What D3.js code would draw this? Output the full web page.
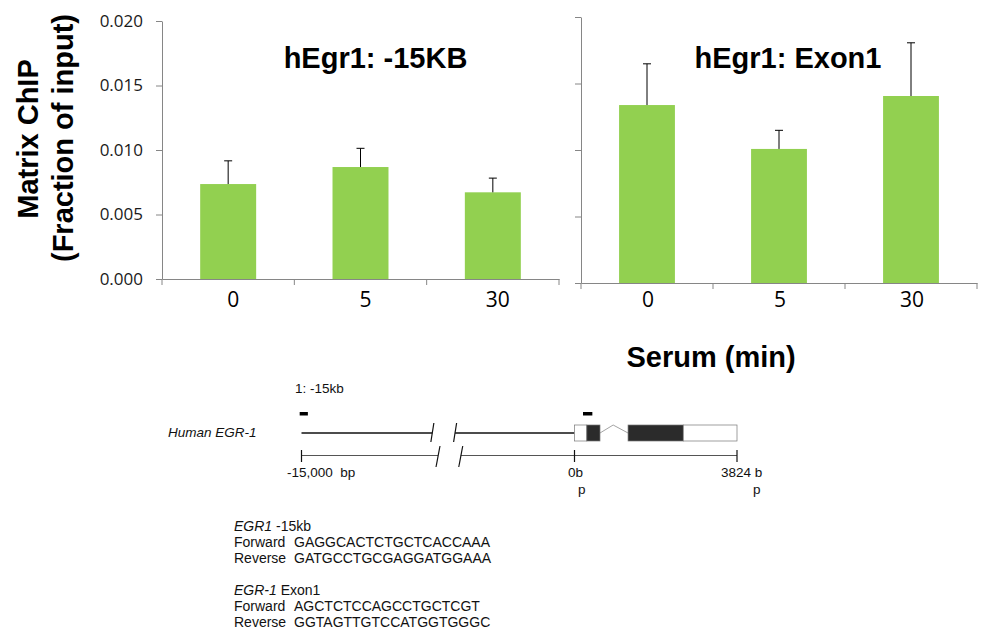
<!DOCTYPE html>
<html>
<head>
<meta charset="utf-8">
<script src="https://cdn.jsdelivr.net/npm/d3@7"></script>
<style>
  body { margin: 0; background: #fff; }
  svg { display: block; }
  svg text { white-space: pre; }
  .tick text { font-family: "Open Sans", sans-serif; }
</style>
</head>
<body>
<div id="chart-area"></div>
<script>
/*
*    EGR-1 matrix ChIP
*/

var categories = ["0", "5", "30"];
var yTicks = [0, 0.005, 0.010, 0.015, 0.020];

var upstreamValues = [0.00736, 0.00868, 0.00672];
var upstreamErrors = [0.0018, 0.00145, 0.0011];

var exonValues = [0.01338, 0.01008, 0.01406];
var exonErrors = [0.0031, 0.0014, 0.0040];

// gene schematic, positions in bp relative to TSS
var exonBoxes = [
  { start: 0, end: 290, fill: "#fff" },
  { start: 290, end: 600, fill: "#2b2b2b" },
  { start: 1260, end: 2560, fill: "#2b2b2b" },
  { start: 2560, end: 3824, fill: "#fff" }
];
var primerMarks = [[-15100, -14650], [200, 420]];

var primerText = [
  { head: "EGR1", tail: " -15kb", fwd: "GAGGCACTCTGCTCACCAAA", rev: "GATGCCTGCGAGGATGGAAA" },
  { head: "EGR-1", tail: " Exon1", fwd: "AGCTCTCCAGCCTGCTCGT", rev: "GGTAGTTGTCCATGGTGGGC" }
];

var width = 990;
var height = 636;
var green = "#92d050";
var axisColor = "#868686";
var boldFont = "Liberation Sans, Arial, sans-serif";

var svg = d3.select("#chart-area")
  .append("svg")
  .attr("width", width)
  .attr("height", height);

var panels = [
  { title: "hEgr1: -15KB", values: upstreamValues, errors: upstreamErrors,
    left: 162, right: 559, top: 21, bottom: 279, labels: true, titleX: 375.5, labelDx: 5 },
  { title: "hEgr1: Exon1", values: exonValues, errors: exonErrors,
    left: 581, right: 977, top: 17, bottom: 283, labels: false, titleX: 788, labelDx: 1 }
];

panels.forEach(p => {
  var data = categories.map((c, i) => ({ cat: c, value: p.values[i], err: p.errors[i] }));

  var x = d3.scaleBand()
    .domain(categories)
    .range([p.left, p.right])
    .paddingInner(0.577)
    .paddingOuter(0.2885);

  var y = d3.scaleLinear()
    .domain([0, 0.02])
    .range([p.bottom, p.top]);

  var g = svg.append("g");

  g.selectAll("rect.bar")
    .data(data).enter()
    .append("rect")
    .attr("class", "bar")
    .attr("x", d => x(d.cat))
    .attr("y", d => y(d.value))
    .attr("width", x.bandwidth())
    .attr("height", d => y(0) - y(d.value))
    .attr("fill", green);

  // error bars (upper half only)
  var err = g.selectAll("g.err")
    .data(data).enter()
    .append("g")
    .attr("class", "err")
    .attr("stroke", "#000")
    .attr("stroke-width", 1);
  err.append("line")
    .attr("x1", d => x(d.cat) + x.bandwidth() / 2)
    .attr("x2", d => x(d.cat) + x.bandwidth() / 2)
    .attr("y1", d => y(d.value))
    .attr("y2", d => y(d.value + d.err));
  err.append("line")
    .attr("x1", d => x(d.cat) + x.bandwidth() / 2 - 4)
    .attr("x2", d => x(d.cat) + x.bandwidth() / 2 + 4)
    .attr("y1", d => y(d.value + d.err))
    .attr("y2", d => y(d.value + d.err));

  var leftAxis = d3.axisLeft(y)
    .tickValues(yTicks)
    .tickSize(6)
    .tickSizeOuter(0)
    .tickPadding(13)
    .tickFormat(p.labels ? d3.format(".3f") : () => "");
  var ya = g.append("g")
    .attr("transform", "translate(" + p.left + ",0)")
    .call(leftAxis);
  ya.selectAll("path, line").attr("stroke", axisColor);
  ya.selectAll("text")
    .attr("font-size", "17px")
    .attr("fill", "#1a1a1a");

  var bottomAxis = d3.axisBottom(x).tickSize(0).tickPadding(307 - p.bottom - 15);
  var xa = g.append("g")
    .attr("transform", "translate(0," + p.bottom + ")")
    .call(bottomAxis);
  xa.select(".domain").attr("stroke", axisColor);
  xa.selectAll("text")
    .attr("dx", p.labelDx)
    .attr("font-size", "21px")
    .attr("fill", "#000");

  // category boundary ticks
  var bounds = categories.map(c => x(c) - x.step() * x.paddingOuter()).concat([p.right]);
  xa.selectAll("line.bound")
    .data(bounds).enter()
    .append("line")
    .attr("class", "bound")
    .attr("x1", d => d).attr("x2", d => d)
    .attr("y1", 0).attr("y2", 6)
    .attr("stroke", axisColor);

  g.append("text")
    .attr("x", p.titleX)
    .attr("y", 68)
    .attr("text-anchor", "middle")
    .attr("font-family", boldFont)
    .attr("font-weight", "bold")
    .attr("font-size", "29px")
    .text(p.title);
});

// y axis title
var yTitle = svg.append("text")
  .attr("transform", "translate(0,141) rotate(-90)")
  .attr("text-anchor", "middle")
  .attr("font-family", boldFont)
  .attr("font-weight", "bold")
  .attr("font-size", "29px");
yTitle.append("tspan").attr("x", 2).attr("y", 38).text("Matrix ChIP");
yTitle.append("tspan").attr("x", 3).attr("y", 73).text("(Fraction of input)");

svg.append("text")
  .attr("x", 711)
  .attr("y", 367)
  .attr("text-anchor", "middle")
  .attr("font-family", boldFont)
  .attr("font-weight", "bold")
  .attr("font-size", "29px")
  .text("Serum (min)");

// gene schematic
var bp = d3.scaleLinear()
  .domain([-15000, 0, 3824])
  .range([301.5, 574.5, 737]);

var gene = svg.append("g")
  .attr("font-family", boldFont)
  .attr("font-size", "13.5px")
  .attr("fill", "#111");

gene.append("text").attr("x", 295).attr("y", 393).text("1: -15kb");
gene.append("text").attr("x", 168).attr("y", 437)
  .attr("font-style", "italic").text("Human EGR-1");

gene.selectAll("rect.primer")
  .data(primerMarks).enter()
  .append("rect")
  .attr("class", "primer")
  .attr("x", d => bp(d[0]))
  .attr("width", d => bp(d[1]) - bp(d[0]))
  .attr("y", 412)
  .attr("height", 3.5)
  .attr("fill", "#000");

var geneY = 433;
var lineSegs = [[-15000, -7810], [-6560, 0]];
gene.selectAll("line.gene")
  .data(lineSegs).enter()
  .append("line")
  .attr("x1", d => bp(d[0])).attr("x2", d => bp(d[1]))
  .attr("y1", geneY).attr("y2", geneY)
  .attr("stroke", "#111").attr("stroke-width", 1.3);
gene.selectAll("line.gslash")
  .data([-7810, -6560]).enter()
  .append("line")
  .attr("x1", d => bp(d) - 1.5).attr("x2", d => bp(d) + 1.5)
  .attr("y1", 442).attr("y2", 423)
  .attr("stroke", "#111").attr("stroke-width", 1.2);

// intron caret
gene.append("polyline")
  .attr("points", [[bp(600), geneY], [bp(910), 425], [bp(1260), geneY]].map(d => d.join(",")).join(" "))
  .attr("fill", "none").attr("stroke", "#999").attr("stroke-width", 0.9);

gene.selectAll("rect.exon")
  .data(exonBoxes).enter()
  .append("rect")
  .attr("class", "exon")
  .attr("x", d => bp(d.start))
  .attr("width", d => bp(d.end) - bp(d.start))
  .attr("y", 425)
  .attr("height", 16)
  .attr("fill", d => d.fill)
  .attr("stroke", "#777")
  .attr("stroke-width", 0.7);

// ruler
var rulerY = 455.5;
var rulerSegs = [[-15000, -7500], [-6250, 3824]];
gene.selectAll("line.ruler")
  .data(rulerSegs).enter()
  .append("line")
  .attr("x1", d => bp(d[0])).attr("x2", d => bp(d[1]))
  .attr("y1", rulerY).attr("y2", rulerY)
  .attr("stroke", "#555").attr("stroke-width", 1);
gene.selectAll("line.rslash")
  .data([-7500, -6250]).enter()
  .append("line")
  .attr("x1", d => bp(d) - 2).attr("x2", d => bp(d) + 2)
  .attr("y1", 467).attr("y2", 446)
  .attr("stroke", "#111").attr("stroke-width", 1.2);
gene.selectAll("line.rtick")
  .data([-15000, 0, 3824]).enter()
  .append("line")
  .attr("x1", d => bp(d)).attr("x2", d => bp(d))
  .attr("y1", 450).attr("y2", 462)
  .attr("stroke", "#111").attr("stroke-width", 1.2);

gene.append("text").attr("x", 287).attr("y", 477).text("-15,000  bp");
gene.append("text").attr("x", 568).attr("y", 477).text("0b");
gene.append("text").attr("x", 578).attr("y", 494).text("p");
gene.append("text").attr("x", 721).attr("y", 477).text("3824 b");
gene.append("text").attr("x", 753).attr("y", 494).text("p");

// primer sequences
var primers = svg.append("g")
  .attr("font-family", boldFont)
  .attr("font-size", "14px")
  .attr("fill", "#111");

primerText.forEach((pr, i) => {
  var y0 = 531 + i * 64;
  var head = primers.append("text").attr("x", 234).attr("y", y0);
  head.append("tspan").attr("font-style", "italic").text(pr.head);
  head.append("tspan").text(pr.tail);
  primers.append("text").attr("x", 234).attr("y", y0 + 16).text("Forward");
  primers.append("text").attr("x", 294).attr("y", y0 + 16).text(pr.fwd);
  primers.append("text").attr("x", 234).attr("y", y0 + 32).text("Reverse");
  primers.append("text").attr("x", 294).attr("y", y0 + 32).text(pr.rev);
});
</script>
</body>
</html>
